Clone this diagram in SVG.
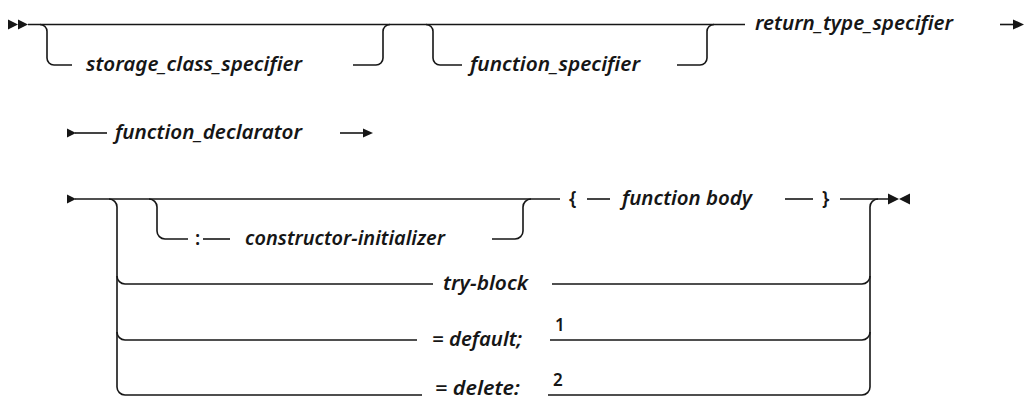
<svg xmlns="http://www.w3.org/2000/svg" width="1025" height="401" viewBox="0 0 1025 401">
<style>
.ln{fill:none;stroke:#161616;stroke-width:1.6}
.mk{fill:#161616;stroke:none}
.t{font-family:"Noto Sans","Liberation Sans",sans-serif;font-style:italic;font-weight:600;font-size:19px;fill:#161616}
.u{font-family:"Noto Sans","Liberation Sans",sans-serif;font-weight:600;font-size:19px;fill:#161616}
.s{font-family:"Noto Sans","Liberation Sans",sans-serif;font-weight:600;font-size:17px;fill:#161616}
</style>
<rect width="1025" height="401" fill="#ffffff"/>
<g id="connectors">
<path class="ln" d="M28,24.5 H745"/>
<path class="ln" d="M40,24.5 A7,7 0 0 1 47,31.5 V58 A7,7 0 0 0 54,65 H72"/>
<path class="ln" d="M353,65 H376 A7,7 0 0 0 383,58 V31.5 A7,7 0 0 1 390,24.5"/>
<path class="ln" d="M426,24.5 A7,7 0 0 1 433,31.5 V58 A7,7 0 0 0 440,65 H462"/>
<path class="ln" d="M677,65 H700 A7,7 0 0 0 707,58 V31.5 A7,7 0 0 1 714,24.5"/>
<path class="ln" d="M1000,24.5 H1015"/>
<path class="ln" d="M75,133 H107"/>
<path class="ln" d="M340,133 H364"/>
<path class="ln" d="M75,199 H560"/>
<path class="ln" d="M109,199 A8,8 0 0 1 117,207 V387 A8,8 0 0 0 125,395 H422"/>
<path class="ln" d="M117,276 A8,8 0 0 0 125,284 H433"/>
<path class="ln" d="M117,332 A8,8 0 0 0 125,340 H417"/>
<path class="ln" d="M149,199 A8,8 0 0 1 157,207 V231 A8,8 0 0 0 165,239 H188"/>
<path class="ln" d="M203,239 H230"/>
<path class="ln" d="M492,239 H515 A8,8 0 0 0 523,231 V207 A8,8 0 0 1 531,199"/>
<path class="ln" d="M587,199 H610"/>
<path class="ln" d="M785,199 H813"/>
<path class="ln" d="M840,199 H889"/>
<path class="ln" d="M870,387 V207 A8,8 0 0 1 878,199"/>
<path class="ln" d="M552,284 H862 A8,8 0 0 0 870,276"/>
<path class="ln" d="M550,340 H862 A8,8 0 0 0 870,332"/>
<path class="ln" d="M548,395 H862 A8,8 0 0 0 870,387"/>
</g>
<g id="markers">
<polygon class="mk" points="8,19.5 18,24.5 8,29.5"/>
<polygon class="mk" points="18,19.5 28,24.5 18,29.5"/>
<polygon class="mk" points="1013,19.5 1024,24.5 1013,29.5"/>
<polygon class="mk" points="67,128.5 76,133 67,137.5"/>
<polygon class="mk" points="363,128.5 373,133 363,137.5"/>
<polygon class="mk" points="67,194.5 76,199 67,203.5"/>
<polygon class="mk" points="888,193.5 899,199 888,204.5"/>
<polygon class="mk" points="910,193.5 899,199 910,204.5"/>
</g>
<g id="storage_class_specifier"><text class="t" x="86" y="71" textLength="216" lengthAdjust="spacingAndGlyphs">storage_class_specifier</text></g>
<g id="function_specifier"><text class="t" x="470" y="71" textLength="170" lengthAdjust="spacingAndGlyphs">function_specifier</text></g>
<g id="return_type_specifier"><text class="t" x="755" y="30" textLength="198" lengthAdjust="spacingAndGlyphs">return_type_specifier</text></g>
<g id="function_declarator"><text class="t" x="115" y="139" textLength="187" lengthAdjust="spacingAndGlyphs">function_declarator</text></g>
<g id="colon"><text class="u" x="195" y="245">:</text></g>
<g id="constructor_initializer"><text class="t" x="245" y="245" textLength="200" lengthAdjust="spacingAndGlyphs">constructor-initializer</text></g>
<g id="lbrace"><text class="u" x="569" y="205">{</text></g>
<g id="function_body"><text class="t" x="622" y="205" textLength="130" lengthAdjust="spacingAndGlyphs">function body</text></g>
<g id="rbrace"><text class="u" x="822" y="205">}</text></g>
<g id="try_block"><text class="t" x="443" y="290" textLength="85" lengthAdjust="spacingAndGlyphs">try-block</text></g>
<g id="default"><text class="t" x="432" y="346" textLength="90" lengthAdjust="spacingAndGlyphs">= default;</text><text class="s" x="555" y="331">1</text></g>
<g id="delete"><text class="t" x="435" y="395" textLength="85" lengthAdjust="spacingAndGlyphs">= delete:</text><text class="s" x="553" y="386">2</text></g>
</svg>
